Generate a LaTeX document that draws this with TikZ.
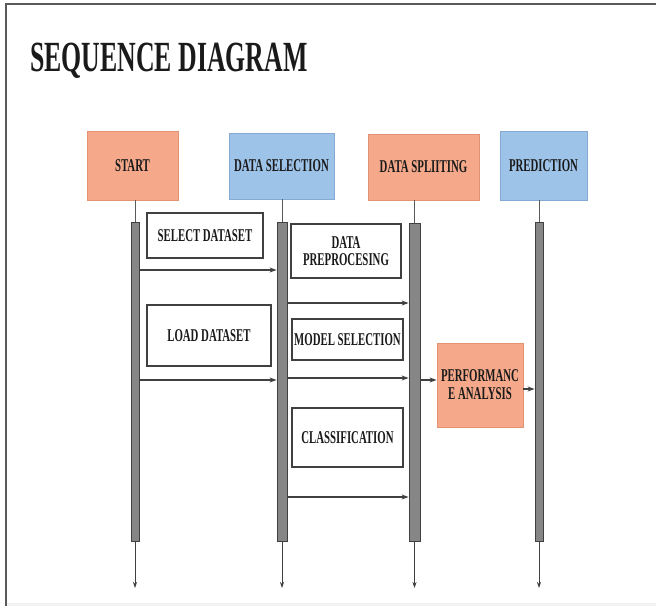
\documentclass[tikz,border=0pt]{standalone}
\usepackage{fontspec}
\setmainfont{Liberation Serif}
\newfontfamily\condfont{Liberation Serif}[FakeStretch=0.6]
\usetikzlibrary{arrows.meta}
\definecolor{salmonfill}{HTML}{F5A98A}
\definecolor{salmonline}{HTML}{E39272}
\definecolor{bluefill}{HTML}{9EC3E8}
\definecolor{blueline}{HTML}{84A9D3}
\definecolor{barfill}{HTML}{868686}
\definecolor{barline}{HTML}{404040}
\definecolor{inkcol}{HTML}{1A1A1A}
\definecolor{framecol}{HTML}{5A5A5A}
\tikzset{
  lbl/.style={font=\condfont\bfseries\fontsize{18}{19}\selectfont, text=inkcol, align=center},
  headorange/.style={lbl, rectangle, fill=salmonfill, draw=salmonline, line width=0.8pt, inner sep=0pt},
  headblue/.style={lbl, rectangle, fill=bluefill, draw=blueline, line width=0.8pt, inner sep=0pt},
  msgbox/.style={lbl, rectangle, fill=white, draw=barline, line width=1.2pt, inner sep=0pt},
  lifebar/.style={rectangle, fill=barfill, draw=barline, line width=0.8pt, inner sep=0pt, minimum width=9pt},
  stem/.style={draw=framecol, line width=0.8pt},
  msg/.style={draw=barline, line width=1.2pt, -{Stealth[length=7pt,width=5pt]}},
  endarrow/.style={draw=barline, line width=0.8pt, -{Stealth[length=6pt,width=4pt]}}
}
\begin{document}
\begin{tikzpicture}[x=1pt,y=-1pt]
\useasboundingbox (0,0) rectangle (656,606);
\fill[white] (0,0) rectangle (656,606);
\fill[black!5] (7,603) rectangle (656,606);
\draw[framecol, line width=1.6pt] (6,606) -- (6,4) -- (656,4);

\node[anchor=base west, font=\condfont\bfseries\fontsize{43}{45}\selectfont, text=inkcol, inner sep=0pt] (title) at (30,71) {SEQUENCE DIAGRAM};

% headers
\node[headorange, minimum width=91pt, minimum height=69pt] (start) at (132.5,165.5) {START};
\node[headblue, minimum width=105pt, minimum height=66pt] (dsel) at (281.5,166) {DATA SELECTION};
\node[headorange, minimum width=111pt, minimum height=66pt] (dspl) at (423.5,167) {DATA SPLIITING};
\node[headblue, minimum width=87pt, minimum height=69pt] (pred) at (543.5,165.5) {PREDICTION};

% lifeline bars
\node[lifebar, minimum width=8pt, minimum height=319pt] (bstart) at (135,381.5) {};
\node[lifebar, minimum width=10pt, minimum height=319pt] (bsel) at (282,381.5) {};
\node[lifebar, minimum width=11pt, minimum height=318pt] (bspl) at (414.5,382) {};
\node[lifebar, minimum width=8pt, minimum height=319pt] (bpred) at (539,381.5) {};

% stems from headers to bars
\draw[stem] (start.south -| bstart.north) -- (bstart.north);
\draw[stem] (dsel.south -| bsel.north) -- (bsel.north);
\draw[stem] (dspl.south -| bspl.north) -- (bspl.north);
\draw[stem] (pred.south -| bpred.north) -- (bpred.north);

% end arrows
\coordinate (endy) at (0,588);
\draw[endarrow] (bstart.south) -- (bstart.south |- endy);
\draw[endarrow] (bsel.south) -- (bsel.south |- endy);
\draw[endarrow] (bspl.south) -- (bspl.south |- endy);
\draw[endarrow] (bpred.south) -- (bpred.south |- endy);

% message boxes
\node[msgbox, minimum width=116pt, minimum height=45pt] (selds) at (205,235.5) {SELECT DATASET};
\node[msgbox, minimum width=124pt, minimum height=61pt] (loadds) at (209,335.5) {LOAD DATASET};
\node[msgbox, minimum width=110pt, minimum height=54pt] (prep) at (346,251) {DATA\\[-2pt]PREPROCESING};
\node[msgbox, minimum width=111pt, minimum height=41pt] (model) at (347.5,339.5) {MODEL SELECTION};
\node[msgbox, minimum width=111pt, minimum height=59pt] (clas) at (347.5,437.5) {CLASSIFICATION};
\node[headorange, minimum width=86pt, minimum height=84pt] (perf) at (480,385) {PERFORMANC\\[-1pt]E ANALYSIS};

% messages
\coordinate (m1) at (0,270);
\coordinate (m2) at (0,380);
\coordinate (m3) at (0,303);
\coordinate (m4) at (0,378);
\coordinate (m5) at (0,497);
\coordinate (m6) at (0,380);
\coordinate (m7) at (0,389);
\draw[msg] (bstart.east |- m1) -- (bsel.west |- m1);
\draw[msg] (bstart.east |- m2) -- (bsel.west |- m2);
\draw[msg] (bsel.east |- m3) -- (bspl.west |- m3);
\draw[msg] (bsel.east |- m4) -- (bspl.west |- m4);
\draw[msg] (bsel.east |- m5) -- (bspl.west |- m5);
\draw[msg] (bspl.east |- m6) -- (perf.west |- m6);
\draw[msg] (perf.east |- m7) -- (bpred.west |- m7);
\end{tikzpicture}
\end{document}
